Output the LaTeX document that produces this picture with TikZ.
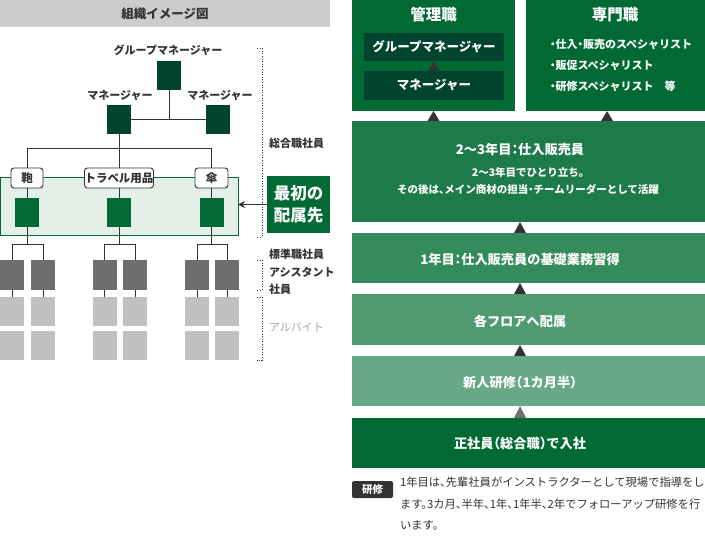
\documentclass[tikz,border=0pt]{standalone}
\usepackage{fontspec}
\setmainfont{Noto Sans CJK JP}[RawFeature=+halt]
\usetikzlibrary{arrows.meta,calc}
\definecolor{hdrgray}{HTML}{CCCCCC}
\definecolor{txtdark}{HTML}{333333}
\definecolor{dkgreen}{HTML}{00432F}
\definecolor{mgreen}{HTML}{006934}
\definecolor{ltregion}{HTML}{E3EFE7}
\definecolor{dkgray}{HTML}{6E6E6E}
\definecolor{ltgray}{HTML}{C0C1C0}
\definecolor{stepA}{HTML}{1D7A4A}
\definecolor{stepB}{HTML}{348B5C}
\definecolor{stepC}{HTML}{4F9A70}
\definecolor{stepD}{HTML}{67A886}
\definecolor{arbgray}{HTML}{A5A5A5}
\definecolor{trigray}{HTML}{707070}
\begin{document}
\begin{tikzpicture}[x=1pt,y=-1pt,
  every node/.style={inner sep=0pt,outer sep=0pt},
  sq/.style={rectangle,minimum width=24pt,minimum height=29pt},
  lbl/.style={text=txtdark,font=\fontsize{11}{13}\selectfont\bfseries},
  sidelbl/.style={text=txtdark,font=\fontsize{11}{13}\selectfont\bfseries,anchor=west},
  catbox/.style={draw=txtdark,line width=0.9pt,fill=white,rounded corners=3pt,minimum height=20pt,text=txtdark,font=\fontsize{11.5}{13}\selectfont\bfseries},
  tree/.style={draw=txtdark,line width=1pt},
  brk/.style={draw=txtdark,line width=0.8pt,dash pattern=on 1pt off 1.6pt},
  stepbox/.style={rectangle,minimum width=353pt},
  wtitle/.style={text=white,font=\fontsize{15.5}{18}\selectfont\bfseries},
  winner/.style={text=white,font=\fontsize{12.5}{15}\selectfont\bfseries},
  wtext/.style={text=white,font=\fontsize{13.2}{16}\selectfont\bfseries},
  wsmall/.style={text=white,font=\fontsize{11}{13}\selectfont\bfseries},
  wsub/.style={text=white,font=\fontsize{10.5}{13}\selectfont\bfseries},
  tri/.style={fill=txtdark}
]
\useasboundingbox (0,0) rectangle (705,540);

% ---------- left: organisation chart ----------
\node[fill=hdrgray,minimum width=330pt,minimum height=27pt,text=txtdark,
      font=\fontsize{12.5}{15}\selectfont\bfseries] (hdr) at (165,13.5) {組織イメージ図};

\node[lbl] (gmlbl) at (168,50) {グループマネージャー};
\node[sq,fill=dkgreen] (gm) at (169,75.5) {};
\node[lbl] (m1lbl) at (120,96) {マネージャー};
\node[lbl] (m2lbl) at (220,96) {マネージャー};
\node[sq,fill=dkgreen] (m1) at (119,119.5) {};
\node[sq,fill=dkgreen] (m2) at (218,119.5) {};
\draw[tree] (m1.east) -- (m2.west);
\draw[tree] (gm.south) -- (gm.south |- m1.east);

\node[draw=mgreen,line width=1pt,fill=ltregion,minimum width=238pt,minimum height=58pt] (region) at (119,207) {};

\coordinate (bar) at (119,149);
\node[catbox,minimum width=32pt] (c1) at (27,178) {鞄};
\node[catbox,minimum width=66pt] (c2) at (119,178) {トラベル用品};
\node[catbox,minimum width=33pt] (c3) at (211.5,178) {傘};
\draw[tree] (m1.south) -- (bar);
\draw[tree] (c1.north) |- (c3.north |- bar) -- (c3.north);
\draw[tree] (bar) -- (c2.north);

\node[sq,fill=mgreen] (g1) at (27,212.5) {};
\node[sq,fill=mgreen] (g2) at (119,212.5) {};
\node[sq,fill=mgreen] (g3) at (211.5,212.5) {};
\draw[tree] (c1.south) -- (g1.north);
\draw[tree] (c2.south) -- (g2.north);
\draw[tree] (c3.south) -- (g3.north);

\coordinate (s1) at (27,245);
\coordinate (s2) at (119,245);
\coordinate (s3) at (211.5,245);

% dark gray (standard / assistant)
\foreach \n/\x in {d11/12,d12/43,d21/104.5,d22/135,d31/197,d32/227}{
  \node[rectangle,minimum width=24pt,minimum height=30pt,fill=dkgray] (\n) at (\x,275) {};
}
% light gray (part time)
\foreach \n/\x in {11/12,12/43,21/104.5,22/135,31/197,32/227}{
  \node[sq,fill=ltgray] (la\n) at (\x,311.5) {};
  \node[sq,fill=ltgray] (lb\n) at (\x,345.5) {};
  \draw[tree] (d\n.south) -- (la\n.north);
}
\draw[tree] (g1.south) -- (s1);
\draw[tree] (g2.south) -- (s2);
\draw[tree] (g3.south) -- (s3);
\draw[tree] (d11.north) |- (d12.north |- s1) -- (d12.north);
\draw[tree] (d21.north) |- (d22.north |- s2) -- (d22.north);
\draw[tree] (d31.north) |- (d32.north |- s3) -- (d32.north);

% brackets
\draw[brk] (257,48) -- (262,48) -- (262,237) -- (257,237);
\draw[brk] (257,260) -- (262,260) -- (262,290) -- (257,290);
\draw[brk] (257,297) -- (262,297) -- (262,360) -- (257,360);

\node[sidelbl] (sogo) at (269,143) {総合職社員};
\node[sidelbl] (hyojun) at (269,254) {標準職社員};
\node[sidelbl] (assist1) at (269,272) {アシスタント};
\node[sidelbl] (assist2) at (269,289) {社員};
\node[anchor=west,text=arbgray,font=\fontsize{11}{13}\selectfont] (arb) at (269,327) {アルバイト};

\node[fill=mgreen,minimum width=63pt,minimum height=57pt,text=white,align=center,
      font=\fontsize{16.5}{22}\selectfont\bfseries] (first) at (298.5,204.5) {最初の\\配属先};
\draw[draw=txtdark,line width=1pt,-{Stealth[length=7pt,width=7pt]}] (first.west) -- (first.west -| region.east);

% ---------- right: career steps ----------
\node[fill=mgreen,minimum width=163pt,minimum height=111pt] (kanri) at (433.5,55.5) {};
\node[wtitle] (kanrit) at (433.5,15) {管理職};
\node[fill=dkgreen,minimum width=140pt,minimum height=28pt,winner] (igm) at (434,47) {グループマネージャー};
\node[fill=dkgreen,minimum width=140pt,minimum height=29pt,winner] (imgr) at (434,85.5) {マネージャー};
\fill[tri] (imgr.north) ++(-6,0) -- ++(12,0) -- ($(imgr.north |- igm.south)$) -- cycle;

\node[fill=mgreen,minimum width=179pt,minimum height=111pt] (senmon) at (615.5,55.5) {};
\node[wtitle] (senmont) at (615,15) {専門職};
\node[wsmall,anchor=west] (sp1) at (550,44) {・仕入・販売のスペシャリスト};
\node[wsmall,anchor=west] (sp2) at (550,65) {・販促スペシャリスト};
\node[wsmall,anchor=west] (sp3) at (550,86) {・研修スペシャリスト　等};

\node[stepbox,fill=stepA,minimum height=101pt] (y23) at (528.5,171.5) {};
\node[wtext] (y23t) at (520,149) {2〜3年目：仕入販売員};
\node[wsub] (y23a) at (528,172) {2〜3年目でひとり立ち。};
\node[wsub] (y23b) at (528,189) {その後は、メイン商材の担当・チームリーダーとして活躍};

\node[stepbox,fill=stepB,minimum height=50pt] (y1) at (528.5,258) {};
\node[wtext] (y1t) at (520,259) {1年目：仕入販売員の基礎業務習得};

\node[stepbox,fill=stepC,minimum height=51pt] (floor) at (528.5,319.5) {};
\node[wtext] (floort) at (520,321) {各フロアへ配属};

\node[stepbox,fill=stepD,minimum height=50pt] (ken) at (528.5,381) {};
\node[wtext] (kent) at (520,382) {新人研修（1カ月半）};

\node[stepbox,fill=mgreen,minimum height=50pt] (nyu) at (528.5,443) {};
\node[wtext] (nyut) at (520,443) {正社員（総合職）で入社};

% triangles
\coordinate (ta1) at (433.5,121);
\coordinate (ta2) at (607,121);
\fill[tri] ($(ta1)+(-6,0)$) -- ($(ta1)+(6,0)$) -- (ta1 |- kanri.south) -- cycle;
\fill[tri] ($(ta2)+(-6,0)$) -- ($(ta2)+(6,0)$) -- (ta2 |- senmon.south) -- cycle;
\coordinate (tb) at (520,233);
\fill[tri] ($(tb)+(-6,0)$) -- ($(tb)+(6,0)$) -- (tb |- y23.south) -- cycle;
\coordinate (tc) at (520,294);
\fill[tri] ($(tc)+(-6,0)$) -- ($(tc)+(6,0)$) -- (tc |- y1.south) -- cycle;
\coordinate (td) at (520,356);
\fill[tri] ($(td)+(-6,0)$) -- ($(td)+(6,0)$) -- (td |- floor.south) -- cycle;
\coordinate (te) at (520,418);
\fill[trigray] ($(te)+(-6,0)$) -- ($(te)+(6,0)$) -- (te |- ken.south) -- cycle;

% note
\node[fill=txtdark,rounded corners=2pt,minimum width=41pt,minimum height=17pt,text=white,
      font=\fontsize{10.5}{12}\selectfont\bfseries] (tag) at (372.5,489.5) {研修};
\node[anchor=north west,align=left,text=txtdark,font=\fontsize{11.3}{21.5}\selectfont] (note) at (400,477)
  {1年目は、先輩社員がインストラクターとして現場で指導をし\\ます。3カ月、半年、1年、1年半、2年でフォローアップ研修を行\\います。};
\end{tikzpicture}
\end{document}
